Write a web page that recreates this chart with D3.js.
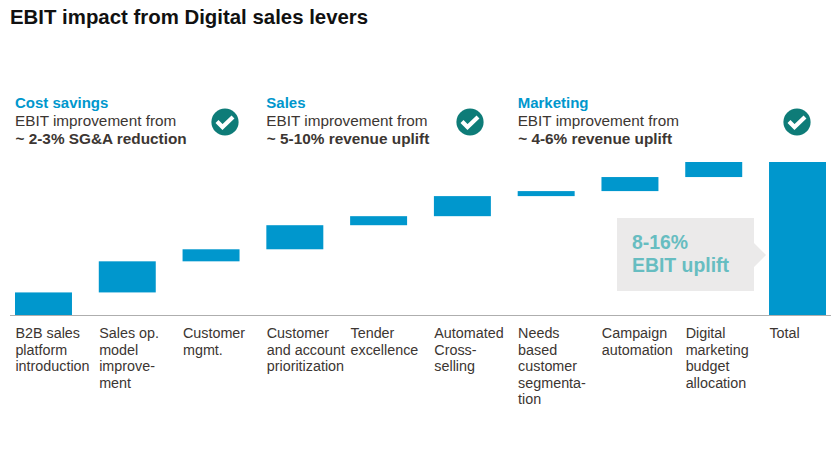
<!DOCTYPE html>
<html><head><meta charset="utf-8">
<script src="https://cdn.jsdelivr.net/npm/d3@7/dist/d3.min.js"></script>
<style>
html,body{margin:0;padding:0;background:#fff}
svg{display:block}
text{font-family:"Liberation Sans",Arial,sans-serif}
</style></head><body>
<svg id="c" width="840" height="455"></svg>
<script>
const titleText = "EBIT impact from Digital sales levers";
const categories = [
  ["B2B sales","platform","introduction"],
  ["Sales op.","model","improve-","ment"],
  ["Customer","mgmt."],
  ["Customer","and account","prioritization"],
  ["Tender","excellence"],
  ["Automated","Cross-","selling"],
  ["Needs","based","customer","segmenta-","tion"],
  ["Campaign","automation"],
  ["Digital","marketing","budget","allocation"],
  ["Total"]
];
const deltas = [23,31,12,24,9,20,5,14,15];
const groupHeads = ["Cost savings","Sales","Marketing"];
const groupLine2 = ["EBIT improvement from","EBIT improvement from","EBIT improvement from"];
const groupLine3 = ["~ 2-3% SG&A reduction","~ 5-10% revenue uplift","~ 4-6% revenue uplift"];
const groupStart = [0,3,6];
const checkCenters = [225,470,797];
const calloutLines = ["8-16%","EBIT uplift"];

const svg = d3.select("#c");
const ink="#3c3632", blue="#0097cd", teal="#0e7c78";
const ids = d3.range(categories.length);
const x = d3.scaleBand().domain(ids).range([15,826]).paddingInner(0.32).paddingOuter(0);
const total = d3.sum(deltas);
const y = d3.scaleLinear().domain([0,total]).range([315.5,162]);

svg.append("text").attr("x",10).attr("y",24).attr("font-size",20.4).attr("font-weight",700)
  .attr("fill","#111").text(titleText);

// bars
const starts = d3.cumsum([0,...deltas]);
const rows = deltas.map((d,i)=>({i,a:starts[i],b:starts[i]+d})).concat([{i:9,a:0,b:total}]);
svg.append("g").selectAll("rect").data(rows).join("rect")
  .attr("x",d=>x(d.i)).attr("width",x.bandwidth())
  .attr("y",d=>y(d.b)).attr("height",d=>y(d.a)-y(d.b))
  .attr("fill",blue);

// axis line
const axis = d3.axisBottom(x).tickSize(0).tickFormat("");
const ag = svg.append("g").attr("transform","translate(0,315.5)").call(axis);
ag.select(".domain").attr("d","M10,0H831").attr("stroke","#aeaeae").attr("stroke-width",1);

// category labels
const lab = svg.append("g").attr("font-size",14.35).attr("fill",ink);
categories.forEach((lines,i)=>{
  const t = lab.append("text");
  lines.forEach((s,j)=>t.append("tspan").attr("x",x(i)+0.4).attr("y",338+j*16.6).text(s));
});

// group heads
groupHeads.forEach((h,i)=>{
  const gx = x(groupStart[i]);
  svg.append("text").attr("x",gx).attr("y",108).attr("font-size",15).attr("font-weight",700).attr("fill",blue).text(h);
  svg.append("text").attr("x",gx).attr("y",126).attr("font-size",15.3).attr("fill",ink).text(groupLine2[i]);
  svg.append("text").attr("x",gx+0.5).attr("y",144).attr("font-size",15.35).attr("font-weight",700).attr("fill",ink).text(groupLine3[i]);
});

// check badges
const cg = svg.append("g").selectAll("g").data(checkCenters).join("g").attr("transform",c=>`translate(${c},122)`);
cg.append("circle").attr("r",13.6).attr("fill",teal);
cg.append("path").attr("d","M-8,-0.5L-2.5,5L8,-5").attr("fill","none").attr("stroke","#fff").attr("stroke-width",4.2);

// callout
svg.append("path").attr("d","M617,218H754V243L766,255L754,267V291H617Z").attr("fill","#ebeaea");
calloutLines.forEach((s,i)=>svg.append("text").attr("x",632).attr("y",249+i*22.5)
  .attr("font-size",19.4).attr("font-weight",700).attr("fill","#67bdc1").text(s));
</script></body></html>
